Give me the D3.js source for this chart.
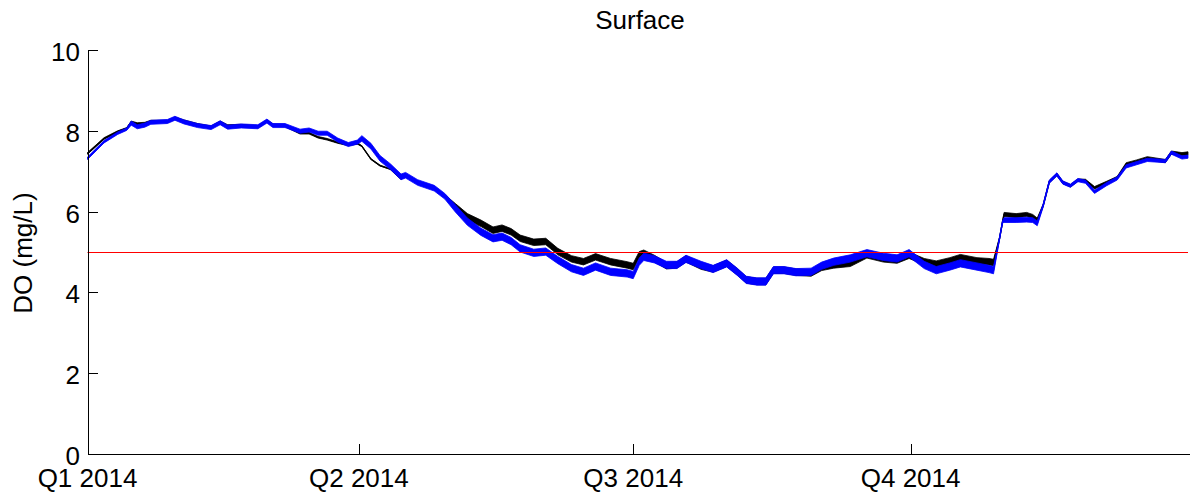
<!DOCTYPE html>
<html>
<head>
<meta charset="utf-8">
<script src="https://cdn.jsdelivr.net/npm/d3@7"></script>
<style>
  body { margin: 0; background: #fff; }
  svg { display: block; font-family: "Liberation Sans", Arial, sans-serif; }
</style>
</head>
<body>
<svg id="chart" width="1192" height="500"></svg>
<script>
// --- data ---
// day of 2014 for each reading
const days = [
  0, 5.5, 10, 13, 14.5, 16.5, 19, 21, 26.5, 29,
  32, 36.5, 41, 44, 46.5, 51, 56.5, 59.5, 61.5, 65.5,
  70.5, 73.5, 76.5, 79.5, 83, 86.5, 89.5, 91, 94, 97,
  100.5, 104, 105.5, 109.5, 115, 118.5, 122, 126, 130.5, 134.5,
  137.5, 140.5, 143.5, 148, 152, 156, 160.5, 164.5, 168.5, 173.5,
  179, 181, 183, 184.5, 188, 192, 195.5, 198.5, 203.5, 207.5,
  212, 215.5, 218.5, 222, 225, 227.5, 231, 235, 240, 243.5,
  247.5, 253, 258.5, 264, 268.5, 272.5, 277.5, 281.5, 286, 289.5,
  295, 299, 300.5, 302.5, 303.5, 304, 308, 311.5, 313.5, 315,
  317, 319, 321.5, 323.5, 326, 328.5, 331, 334, 338, 341.5,
  344.5, 348, 351.5, 357.5, 359.5, 363, 365
];
const doBlack = [
  7.44, 7.81, 7.98, 8.06, 8.21, 8.17, 8.18, 8.23, 8.23, 8.31,
  8.24, 8.15, 8.09, 8.21, 8.12, 8.13, 8.10, 8.24, 8.14, 8.13,
  7.94, 7.94, 7.84, 7.79, 7.71, 7.65, 7.69, 7.62, 7.30, 7.14,
  7.05, 6.81, 6.88, 6.72, 6.58, 6.41, 6.16, 5.87, 5.71, 5.54,
  5.59, 5.50, 5.34, 5.24, 5.26, 5.01, 4.83, 4.76, 4.88, 4.76,
  4.68, 4.64, 4.93, 4.97, 4.84, 4.66, 4.68, 4.83, 4.65, 4.58,
  4.72, 4.51, 4.31, 4.27, 4.27, 4.55, 4.55, 4.50, 4.48, 4.62,
  4.68, 4.72, 4.93, 4.83, 4.80, 4.92, 4.76, 4.70, 4.78, 4.86,
  4.78, 4.76, 4.74, 5.34, 5.75, 5.93, 5.90, 5.93, 5.88, 5.79,
  6.16, 6.74, 6.92, 6.72, 6.64, 6.78, 6.77, 6.59, 6.72, 6.84,
  7.17, 7.24, 7.32, 7.25, 7.46, 7.42, 7.44
];
const doBlue = [
  7.32, 7.73, 7.94, 8.04, 8.19, 8.10, 8.14, 8.21, 8.23, 8.31,
  8.22, 8.13, 8.08, 8.20, 8.09, 8.12, 8.10, 8.24, 8.13, 8.13,
  7.99, 8.02, 7.94, 7.94, 7.77, 7.66, 7.72, 7.81, 7.62, 7.32,
  7.11, 6.86, 6.90, 6.72, 6.58, 6.38, 6.08, 5.75, 5.50, 5.34,
  5.38, 5.27, 5.09, 4.98, 5.01, 4.80, 4.60, 4.51, 4.64, 4.51,
  4.47, 4.43, 4.76, 4.88, 4.82, 4.68, 4.68, 4.83, 4.68, 4.58,
  4.72, 4.51, 4.31, 4.27, 4.27, 4.55, 4.55, 4.50, 4.51, 4.66,
  4.76, 4.84, 4.97, 4.88, 4.84, 4.97, 4.68, 4.55, 4.64, 4.72,
  4.64, 4.58, 4.55, 5.34, 5.75, 5.79, 5.79, 5.80, 5.79, 5.71,
  6.16, 6.74, 6.92, 6.72, 6.64, 6.78, 6.74, 6.49, 6.68, 6.82,
  7.12, 7.20, 7.28, 7.25, 7.46, 7.34, 7.36
];
// half-range of the tidal wiggle around each reading (mg/L)
const ampBlack = [
  0.02, 0.02, 0.02, 0.02, 0.03, 0.03, 0.03, 0.03, 0.03, 0.03,
  0.03, 0.03, 0.03, 0.03, 0.03, 0.03, 0.03, 0.03, 0.03, 0.03,
  0.02, 0.02, 0.02, 0.02, 0.02, 0.02, 0.02, 0.01, 0.01, 0.01,
  0.01, 0.01, 0.01, 0.01, 0.01, 0.01, 0.04, 0.08, 0.08, 0.08,
  0.08, 0.08, 0.08, 0.08, 0.08, 0.08, 0.08, 0.08, 0.08, 0.08,
  0.08, 0.08, 0.08, 0.08, 0.08, 0.08, 0.08, 0.08, 0.08, 0.08,
  0.08, 0.08, 0.08, 0.08, 0.08, 0.08, 0.08, 0.08, 0.08, 0.08,
  0.08, 0.08, 0.08, 0.08, 0.08, 0.08, 0.08, 0.08, 0.08, 0.08,
  0.08, 0.08, 0.08, 0.03, 0.03, 0.05, 0.05, 0.05, 0.05, 0.05,
  0.03, 0.03, 0.03, 0.03, 0.03, 0.03, 0.03, 0.03, 0.03, 0.03,
  0.04, 0.04, 0.04, 0.04, 0.04, 0.04, 0.04
];
const ampBlue = [
  0.03, 0.03, 0.03, 0.03, 0.05, 0.05, 0.05, 0.05, 0.05, 0.05,
  0.05, 0.05, 0.05, 0.05, 0.05, 0.05, 0.05, 0.05, 0.05, 0.05,
  0.05, 0.05, 0.05, 0.05, 0.05, 0.05, 0.05, 0.07, 0.07, 0.07,
  0.07, 0.07, 0.07, 0.07, 0.07, 0.07, 0.09, 0.09, 0.09, 0.09,
  0.09, 0.09, 0.09, 0.09, 0.09, 0.09, 0.09, 0.09, 0.09, 0.09,
  0.09, 0.09, 0.09, 0.09, 0.09, 0.09, 0.09, 0.09, 0.09, 0.09,
  0.09, 0.09, 0.09, 0.09, 0.09, 0.09, 0.09, 0.09, 0.09, 0.09,
  0.09, 0.09, 0.09, 0.09, 0.09, 0.09, 0.09, 0.09, 0.09, 0.09,
  0.09, 0.09, 0.09, 0.03, 0.03, 0.06, 0.06, 0.06, 0.06, 0.06,
  0.04, 0.04, 0.04, 0.04, 0.04, 0.04, 0.04, 0.04, 0.04, 0.04,
  0.04, 0.04, 0.04, 0.04, 0.04, 0.04, 0.04
];
const threshold = 5;
const quarterDates = ["2014-01-01", "2014-04-01", "2014-07-01", "2014-10-01"];
const quarterLabels = ["Q1 2014", "Q2 2014", "Q3 2014", "Q4 2014"];
const yTicks = [0, 2, 4, 6, 8, 10];
const titleText = "Surface";
const yLabel = "DO (mg/L)";

// --- layout ---
const svg = d3.select("#chart");
const plot = { left: 87.5, right: 1188, top: 50, bottom: 454 };
const fontSize = 26;
const start = new Date(2014, 0, 1);
const dayToDate = d => new Date(start.getTime() + d * 86400000);

const x = d3.scaleTime()
  .domain([start, new Date(2015, 0, 1)])
  .range([plot.left, plot.right]);
const y = d3.scaleLinear()
  .domain([0, 10])
  .range([plot.bottom, plot.top]);

const series = [
  { values: doBlack, amps: ampBlack, color: "#000000" },
  { values: doBlue, amps: ampBlue, color: "#0000ff" }
];

// draw the bands + lines (black first, blue on top)
series.forEach(s => {
  const rows = days.map((d, i) => ({ t: dayToDate(d), v: s.values[i], a: s.amps[i] }));
  const band = d3.area()
    .x(d => x(d.t))
    .y0(d => y(d.v - d.a))
    .y1(d => y(d.v + d.a));
  const line = d3.line()
    .x(d => x(d.t))
    .y(d => y(d.v));
  svg.append("path")
    .attr("d", band(rows))
    .attr("fill", s.color)
    .attr("stroke", s.color)
    .attr("stroke-width", 0.8);
  svg.append("path")
    .attr("d", line(rows))
    .attr("fill", "none")
    .attr("stroke", s.color)
    .attr("stroke-width", 1.3);
});

// threshold line
svg.append("line")
  .attr("x1", plot.left).attr("x2", plot.right)
  .attr("y1", Math.round(y(threshold)) + 0.5).attr("y2", Math.round(y(threshold)) + 0.5)
  .attr("stroke", "#ff0000")
  .attr("stroke-width", 1.2);

// axes (ticks point inward)
const yAxis = d3.axisRight(y)
  .tickValues(yTicks)
  .tickSize(10)
  .tickFormat("");
svg.append("g")
  .attr("transform", `translate(${plot.left},0)`)
  .call(yAxis)
  .call(g => g.select(".domain").attr("d", `M0.5,${plot.top}V${plot.bottom + 0.5}`));

const xAxis = d3.axisTop(x)
  .tickValues(quarterDates.map(d => new Date(d + "T00:00:00")))
  .tickSize(10)
  .tickFormat("");
svg.append("g")
  .attr("transform", `translate(0,${plot.bottom})`)
  .call(xAxis)
  .call(g => g.select(".domain").attr("d", `M${plot.left},0.5H${plot.right + 2}`));

svg.selectAll(".tick line").attr("stroke", "#000").attr("shape-rendering", "crispEdges");
svg.selectAll(".domain").attr("stroke", "#000").attr("shape-rendering", "crispEdges");

// tick labels
svg.selectAll(".ylab").data(yTicks).enter()
  .append("text")
    .attr("x", 80)
    .attr("y", d => y(d) + 11)
    .attr("text-anchor", "end")
    .attr("font-size", fontSize)
    .text(d => d);

svg.selectAll(".xlab").data(quarterDates).enter()
  .append("text")
    .attr("x", d => x(new Date(d + "T00:00:00")))
    .attr("y", 487)
    .attr("text-anchor", "middle")
    .attr("font-size", fontSize)
    .text((d, i) => quarterLabels[i]);

// title + y label
svg.append("text")
  .attr("x", 640)
  .attr("y", 29)
  .attr("text-anchor", "middle")
  .attr("font-size", fontSize)
  .text(titleText);

svg.append("text")
  .attr("transform", "translate(32,253) rotate(-90)")
  .attr("text-anchor", "middle")
  .attr("font-size", fontSize)
  .text(yLabel);
</script>
</body>
</html>
